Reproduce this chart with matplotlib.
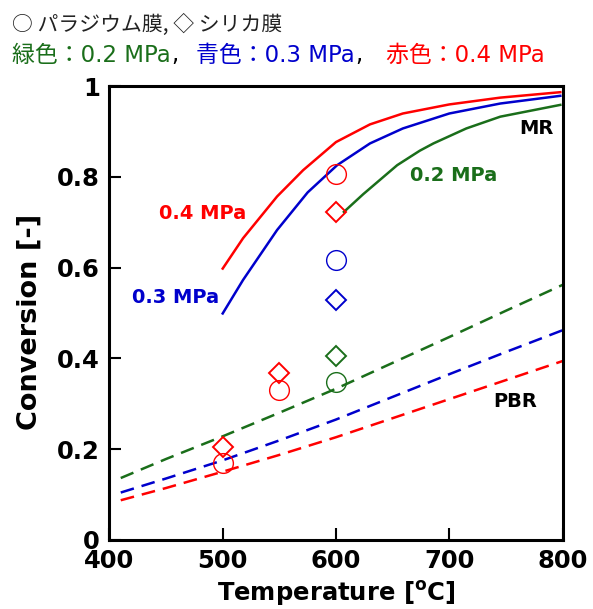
import matplotlib
matplotlib.use("Agg")
import matplotlib.pyplot as plt

plt.rcParams['font.family'] = ['DejaVu Sans']
plt.rcParams['mathtext.fontset'] = 'dejavusans'

# ---- data ----
# Membrane reactor (MR) curves
t_mr_04 = [500, 518, 548, 571, 600, 630, 659, 700, 745, 798]
mr_04 = [0.598, 0.665, 0.757, 0.815, 0.877, 0.916, 0.940, 0.960, 0.975, 0.987]
t_mr_03 = [500, 518, 548, 575, 601, 630, 659, 700, 745, 798]
mr_03 = [0.499, 0.573, 0.683, 0.766, 0.826, 0.874, 0.907, 0.940, 0.962, 0.979]
t_mr_02 = [607, 624, 654, 674, 686, 715, 745, 798]
mr_02 = [0.723, 0.762, 0.826, 0.858, 0.874, 0.907, 0.933, 0.959]

# Packed bed reactor (PBR) curves
t_pbr = [410, 450, 500, 550, 600, 650, 700, 750, 800]
pbr_02 = [0.136, 0.178, 0.228, 0.280, 0.333, 0.390, 0.447, 0.505, 0.562]
pbr_03 = [0.104, 0.135, 0.175, 0.219, 0.265, 0.315, 0.365, 0.414, 0.462]
pbr_04 = [0.087, 0.114, 0.150, 0.187, 0.226, 0.268, 0.310, 0.352, 0.394]

# Experimental points
pd_t = [500, 550, 600, 600, 600]          # palladium membrane (circles)
pd_v = [0.169, 0.330, 0.807, 0.617, 0.348]
pd_c = ['red', 'red', 'red', 'blue', 'green']
si_t = [500, 550, 600, 600, 600]          # silica membrane (diamonds)
si_v = [0.204, 0.367, 0.722, 0.529, 0.405]
si_c = ['red', 'red', 'red', 'blue', 'green']

xticks = [400, 500, 600, 700, 800]
yticks = [0, 0.2, 0.4, 0.6, 0.8, 1.0]
ytick_labels = ['0', '0.2', '0.4', '0.6', '0.8', '1']

RED = '#ff0000'
BLUE = '#0000cc'
GREEN = '#1a6e1a'
cmap = {'red': RED, 'blue': BLUE, 'green': GREEN}

fig = plt.figure(figsize=(5.93, 6.09), dpi=100)
ax = fig.add_axes([0.1845, 0.1138, 0.7642, 0.7445])

lw = 1.8
ax.plot(t_mr_04, mr_04, color=RED, lw=lw)
ax.plot(t_mr_03, mr_03, color=BLUE, lw=lw)
ax.plot(t_mr_02, mr_02, color=GREEN, lw=lw)
dash = (5.5, 3.2)
ax.plot(t_pbr, pbr_02, color=GREEN, lw=lw, dashes=dash)
ax.plot(t_pbr, pbr_03, color=BLUE, lw=lw, dashes=dash)
ax.plot(t_pbr, pbr_04, color=RED, lw=lw, dashes=dash)

for t, v, c in zip(pd_t, pd_v, pd_c):
    ax.plot([t], [v], marker='o', ms=14.2, mfc='none', mec=cmap[c], mew=1.0, ls='none')
for t, v, c in zip(si_t, si_v, si_c):
    ax.plot([t], [v], marker='D', ms=9.8, mfc='none', mec=cmap[c], mew=1.4, ls='none')

ax.set_xlim(400, 800)
ax.set_ylim(0, 1)
ax.set_xticks(xticks)
ax.set_xticklabels([str(x) for x in xticks])
ax.set_yticks(yticks)
ax.set_yticklabels(ytick_labels)
for lbl in ax.get_xticklabels() + ax.get_yticklabels():
    lbl.set_fontweight('bold')
    lbl.set_fontsize(17.5)
ax.tick_params(direction='in', length=8.5, width=1.5, top=False, right=False)
ax.tick_params(axis='x', pad=7)
ax.tick_params(axis='y', pad=7)
for s in ax.spines.values():
    s.set_linewidth(2.2)

ax.set_xlabel(r'Temperature [$^{\mathbf{o}}$C]', fontsize=17.5, fontweight='bold', labelpad=4)
ax.set_ylabel('Conversion [-]', fontsize=19.5, fontweight='bold', labelpad=10)
ax.yaxis.label.set_y(0.48)

tk = dict(fontsize=14, fontweight='bold', ha='center', va='center')
ax.text(482.6, 0.720, '0.4 MPa', color=RED, **tk)
ax.text(458, 0.535, '0.3 MPa', color=BLUE, **tk)
ax.text(704, 0.804, '0.2 MPa', color=GREEN, **tk)
ax.text(776.5, 0.907, 'MR', color='black', **tk)
ax.text(758, 0.304, 'PBR', color='black', **tk)

# ---- header text ----
cjk = ['Noto Sans CJK JP', 'DejaVu Sans']
mixed = ['DejaVu Sans', 'Noto Sans CJK JP']
fig.text(12 / 593, 1 - 25 / 609, '○ パラジウム膜, ◇ シリカ膜', family=cjk,
         fontsize=15, va='center', ha='left', color='#222222')

fig.canvas.draw()
renderer = fig.canvas.get_renderer()
segments = [('緑色：0.2 MPa', GREEN, 11.5), ('青色：0.3 MPa', BLUE, 196),
            ('赤色：0.4 MPa', RED, 386)]
for i, (s, c, x0) in enumerate(segments):
    t = fig.text(x0 / 593, 1 - 55 / 609, s, family=mixed, fontsize=16.5,
                 va='center', ha='left', color=c)
    if i < len(segments) - 1:
        bb = t.get_window_extent(renderer)
        fig.text(bb.x1 / 593 + 0.001, 1 - 55 / 609, ',', family=mixed, fontsize=16.5,
                 va='center', ha='left', color='black')

fig.savefig('out.png', dpi=100)
